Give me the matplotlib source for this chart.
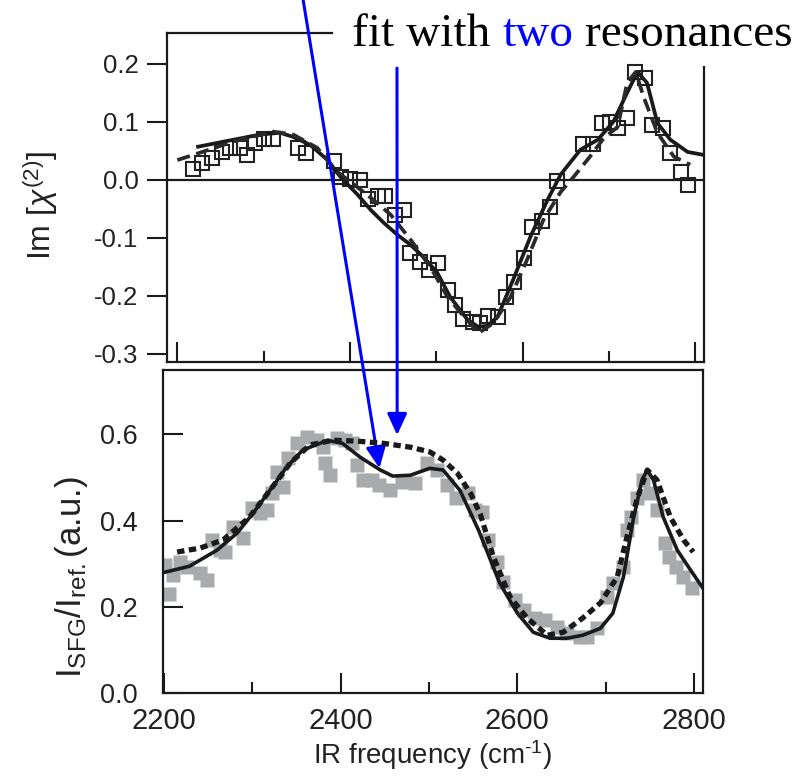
import matplotlib
matplotlib.use('Agg')
import matplotlib.pyplot as plt
from matplotlib.ticker import FormatStrFormatter, MultipleLocator

plt.rcParams['font.family'] = ['Liberation Sans', 'DejaVu Sans']
plt.rcParams['mathtext.fontset'] = 'custom'
plt.rcParams['mathtext.rm'] = 'Liberation Sans'
plt.rcParams['mathtext.it'] = 'Liberation Sans:italic'
plt.rcParams['axes.unicode_minus'] = False

# top panel: Im[chi2] data (open squares) and two fits
top_x = [2218, 2229, 2240, 2252, 2261, 2273, 2281, 2290, 2300, 2311,
         2340, 2349, 2381, 2389, 2400, 2412, 2421, 2432, 2441, 2452,
         2462, 2470, 2481, 2492, 2502, 2513, 2522, 2531, 2542, 2551,
         2560, 2571, 2581, 2590, 2601, 2611, 2622, 2632, 2640, 2670,
         2682, 2692, 2701, 2710, 2721, 2730, 2742, 2750, 2762, 2771,
         2783, 2791]
top_y = [0.019, 0.029, 0.038, 0.048, 0.055, 0.055, 0.043, 0.064, 0.071, 0.071,
         0.055, 0.047, 0.033, 0.005, 0.002, 0.000, -0.033, -0.028, -0.028, -0.060,
         -0.052, -0.126, -0.141, -0.155, -0.143, -0.190, -0.216, -0.240, -0.245, -0.247,
         -0.235, -0.236, -0.202, -0.176, -0.134, -0.081, -0.071, -0.047, -0.002, 0.062,
         0.062, 0.098, 0.100, 0.090, 0.107, 0.186, 0.176, 0.095, 0.090, 0.047,
         0.014, -0.009]

top_fit_x = [2224, 2265, 2296, 2319, 2334, 2354, 2374, 2385, 2392, 2409,
             2424, 2439, 2455, 2470, 2485, 2501, 2516, 2536, 2548, 2559,
             2571, 2589, 2609, 2629, 2644, 2667, 2687, 2705, 2721, 2733,
             2744, 2756, 2771, 2791, 2809]
top_fit_y = [0.057, 0.069, 0.078, 0.081, 0.074, 0.060, 0.034, 0.012, 0.000, -0.026,
             -0.052, -0.074, -0.095, -0.112, -0.133, -0.160, -0.202, -0.241, -0.253, -0.252,
             -0.236, -0.172, -0.098, -0.034, 0.009, 0.052, 0.069, 0.100, 0.150, 0.186,
             0.167, 0.098, 0.069, 0.048, 0.043]

top_fit1_x = [2200, 2227, 2265, 2311, 2334, 2362, 2385, 2400, 2420, 2447,
              2470, 2493, 2513, 2528, 2549, 2566, 2586, 2605, 2624, 2644,
              2659, 2678, 2694, 2710, 2721, 2731, 2740, 2756, 2775, 2794]
top_fit1_y = [0.034, 0.047, 0.066, 0.083, 0.078, 0.055, 0.014, -0.003, -0.026, -0.060,
              -0.103, -0.150, -0.202, -0.229, -0.264, -0.247, -0.202, -0.138, -0.069, -0.021,
              0.005, 0.040, 0.072, 0.091, 0.167, 0.186, 0.143, 0.081, 0.040, 0.026]

# bottom panel: SFG intensity (grey squares) and two fits
bot_x = [2201, 2206, 2210, 2218, 2226, 2241, 2249, 2254, 2263, 2269,
         2278, 2289, 2300, 2309, 2317, 2322, 2328, 2335, 2340, 2351,
         2362, 2373, 2380, 2382, 2388, 2396, 2405, 2413, 2418, 2425,
         2435, 2444, 2456, 2470, 2484, 2498, 2509, 2520, 2531, 2544,
         2552, 2560, 2567, 2577, 2584, 2597, 2608, 2620, 2631, 2645,
         2656, 2671, 2679, 2690, 2701, 2708, 2719, 2724, 2729, 2735,
         2742, 2750, 2758, 2767, 2772, 2780, 2787, 2798]
bot_y = [0.297, 0.229, 0.273, 0.304, 0.292, 0.278, 0.262, 0.355, 0.331, 0.327,
         0.385, 0.359, 0.429, 0.417, 0.424, 0.463, 0.512, 0.477, 0.545, 0.579,
         0.593, 0.586, 0.570, 0.533, 0.505, 0.591, 0.586, 0.579, 0.528, 0.494,
         0.494, 0.482, 0.470, 0.489, 0.487, 0.533, 0.517, 0.482, 0.452, 0.463,
         0.424, 0.419, 0.355, 0.304, 0.257, 0.216, 0.192, 0.174, 0.169, 0.153,
         0.139, 0.130, 0.130, 0.151, 0.222, 0.255, 0.292, 0.378, 0.408, 0.452,
         0.494, 0.463, 0.424, 0.348, 0.315, 0.292, 0.269, 0.243]

bot_fit_x = [2201, 2229, 2260, 2283, 2301, 2320, 2339, 2357, 2385, 2402,
             2422, 2445, 2459, 2479, 2501, 2516, 2535, 2556, 2580, 2600,
             2618, 2637, 2656, 2674, 2694, 2708, 2720, 2731, 2741, 2747,
             2754, 2765, 2781, 2796, 2810]
bot_fit_y = [0.280, 0.294, 0.331, 0.371, 0.417, 0.470, 0.524, 0.563, 0.586, 0.579,
             0.547, 0.517, 0.503, 0.505, 0.521, 0.517, 0.470, 0.378, 0.255, 0.185,
             0.141, 0.127, 0.127, 0.134, 0.150, 0.185, 0.269, 0.401, 0.494, 0.517,
             0.494, 0.408, 0.331, 0.285, 0.243]

bot_fit1_x = [2215, 2241, 2267, 2297, 2320, 2343, 2365, 2391, 2419, 2448,
              2479, 2501, 2516, 2532, 2547, 2558, 2573, 2592, 2611, 2634,
              2652, 2674, 2694, 2713, 2724, 2736, 2747, 2758, 2773, 2788,
              2799]
bot_fit1_y = [0.327, 0.336, 0.355, 0.408, 0.470, 0.533, 0.575, 0.586, 0.584, 0.579,
              0.570, 0.559, 0.540, 0.510, 0.463, 0.415, 0.315, 0.222, 0.174, 0.134,
              0.141, 0.174, 0.209, 0.269, 0.362, 0.454, 0.517, 0.494, 0.408, 0.355,
              0.327]

# where the two blue arrows point (bottom panel data coords)
arrow_tips = [(2444, 0.521), (2464, 0.598)]
arrow_starts = [(0.378, 1.0), (0.495, 0.913)]  # figure fraction

fig = plt.figure(figsize=(8.02, 7.83), dpi=100)
ax1 = fig.add_axes([0.2082, 0.5377, 0.6696, 0.4202])
ax2 = fig.add_axes([0.2032, 0.1149, 0.6733, 0.4126])

# ---- top panel
ax1.axhline(0, color='#1a1a1a', lw=1.6, zorder=1)
ax1.plot(top_x, top_y, 's', ms=9.5, mfc='none', mec='#222222', mew=1.5, zorder=2)
ax1.plot(top_fit_x, top_fit_y, '-', color='#1a1a1a', lw=2.7, zorder=3)
ax1.plot(top_fit1_x, top_fit1_y, color='#2a2a2a', lw=2.7, dashes=(3.5, 1.8), zorder=3)
ax1.set_xlim(2188, 2810)
ax1.set_ylim(-0.314, 0.253)
ax1.xaxis.set_major_locator(MultipleLocator(200))
ax1.xaxis.set_minor_locator(MultipleLocator(100))
ax1.set_yticks([-0.3, -0.2, -0.1, 0.0, 0.1, 0.2])
ax1.yaxis.set_major_formatter(FormatStrFormatter('%.1f'))
ax1.tick_params(axis='x', which='major', direction='in', length=14.5, width=1.5,
                labelbottom=False, color='#1a1a1a')
ax1.tick_params(axis='x', which='minor', direction='in', length=8, width=1.5,
                color='#1a1a1a')
ax1.tick_params(axis='y', direction='out', length=14.5, width=1.5, pad=6,
                labelsize=18.5, color='#1a1a1a', labelcolor='#222222')
for s in ax1.spines.values():
    s.set_linewidth(1.6)
    s.set_color('#1a1a1a')
ax1.spines['top'].set_bounds(2188, 2379)
ax1.spines['right'].set_bounds(-0.314, 0.195)
ax1.set_ylabel(r'Im [$\chi^{(2)}$]', fontsize=23, color='#222222')
ax1.yaxis.set_label_coords(-0.2, 0.475)

# ---- bottom panel
ax2.plot(bot_x, bot_y, 's', ms=10, color='#a8aaac', mec='none', zorder=2)
ax2.plot(bot_fit_x, bot_fit_y, '-', color='#1a1a1a', lw=2.6, zorder=3)
ax2.plot(bot_fit1_x, bot_fit1_y, color='#1a1a1a', lw=3.8, dashes=(1.4, 0.85),
         solid_capstyle='butt', dash_capstyle='butt', zorder=4)
ax2.set_xlim(2199, 2810)
ax2.set_ylim(0.0, 0.749)
ax2.xaxis.set_major_locator(MultipleLocator(200))
ax2.xaxis.set_minor_locator(MultipleLocator(100))
ax2.set_yticks([0.0, 0.2, 0.4, 0.6])
ax2.yaxis.set_major_formatter(FormatStrFormatter('%.1f'))
ax2.tick_params(axis='x', which='major', direction='in', length=14.5, width=1.5,
                labelsize=21, pad=10, color='#1a1a1a', labelcolor='#222222')
ax2.tick_params(axis='x', which='minor', direction='in', length=8, width=1.5,
                color='#1a1a1a')
ax2.tick_params(axis='y', direction='in', length=14.5, width=1.5, pad=18,
                labelsize=19.5, color='#1a1a1a', labelcolor='#222222')
for s in ax2.spines.values():
    s.set_linewidth(1.6)
    s.set_color('#1a1a1a')
ax2.set_ylabel(r'I$_{\rm SFG}$/I$_{\rm ref.}$(a.u.)', fontsize=25, color='#222222')
ax2.yaxis.set_label_coords(-0.136, 0.36)
ax2.set_xlabel('IR frequency (cm$^{\\rm \u20101}$)', fontsize=20, color='#222222')
ax2.xaxis.set_label_coords(0.5, -0.14)

# ---- note above the plot, "two" in blue
t1 = fig.text(352 / 802, 1 - 46 / 783, 'fit with', fontsize=34,
              family='Liberation Serif', va='baseline', color='black')
t2 = ax1.annotate('two', xy=(1, 0), xycoords=t1, xytext=(8.5, 0),
                  textcoords='offset points', va='bottom', ha='left',
                  fontsize=34, family='Liberation Serif', color='#0000ff',
                  annotation_clip=False)
ax1.annotate('resonances', xy=(1, 0), xycoords=t2, xytext=(8.5, 0),
             textcoords='offset points', va='bottom', ha='left',
             fontsize=34, family='Liberation Serif', color='black',
             annotation_clip=False)

# ---- blue arrows
for tip, start in zip(arrow_tips, arrow_starts):
    ax2.annotate('', xy=tip, xycoords='data', xytext=start,
                 textcoords='figure fraction', annotation_clip=False,
                 arrowprops=dict(arrowstyle='-|>,head_length=0.65,head_width=0.3',
                                 mutation_scale=20, color='#0000ff', lw=2.2,
                                 shrinkA=0, shrinkB=0))

fig.savefig('out.png', dpi=100)
